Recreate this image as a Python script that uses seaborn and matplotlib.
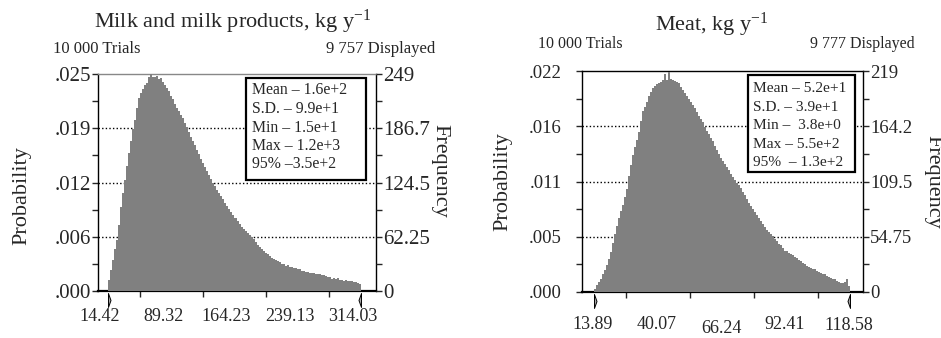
import numpy as np
import pandas as pd
import seaborn as sns
import matplotlib.pyplot as plt
from matplotlib.transforms import ScaledTranslation, blended_transform_factory
from matplotlib.patches import Rectangle

sns.set_style("ticks")
plt.rcParams['font.family'] = ['Liberation Serif', 'DejaVu Serif']
plt.rcParams['mathtext.fontset'] = 'custom'
plt.rcParams['mathtext.rm'] = 'Liberation Serif'
plt.rcParams['mathtext.it'] = 'Liberation Serif'

# ---------------- data ----------------
milk_range = [14.42, 314.03]
milk_xlabels = ["14.42", "89.32", "164.23", "239.13", "314.03"]
milk_freq = [13, 24, 36, 48, 58, 76, 96, 112, 127, 143, 158, 172, 186, 196, 210, 222, 227, 232, 236, 239,
             246, 249, 246, 245, 247, 243, 244, 240, 236, 233, 229, 224, 220, 215, 210, 206, 202, 198, 193, 188,
             183, 177, 172, 167, 162, 157, 151, 147, 142, 138, 133, 128, 124, 120, 116, 112, 109, 105, 101, 98,
             94, 91, 87, 84, 80, 77, 74, 71, 69, 66, 64, 62, 60, 56, 53, 50, 48, 46, 44, 42,
             40, 38, 37, 36, 34, 33, 31, 31, 29, 30, 27, 27, 26, 26, 25, 25, 23, 23, 22, 22,
             21, 21, 21, 20, 19, 19, 18, 18, 17, 16, 16, 14, 15, 14, 15, 13, 13, 12, 13, 12,
             11, 11, 10, 10, 9, 8]
milk_prob_labels = [".000", ".006", ".012", ".019", ".025"]
milk_freq_ticks = [0, 62.25, 124.5, 186.75, 249]
milk_freq_labels = ["0", "62.25", "124.5", "186.7", "249"]
milk_stats = ["Mean \u2013 1.6e+2", "S.D. \u2013 9.9e+1", "Min \u2013 1.5e+1", "Max \u2013 1.2e+3", "95% \u20133.5e+2"]

meat_range = [13.89, 118.58]
meat_xlabels = ["13.89", "40.07", "66.24", "92.41", "118.58"]
meat_freq = [3, 7, 10, 13, 18, 22, 27, 33, 40, 49, 57, 65, 73, 80, 86, 94, 102, 115, 126, 136,
             144, 151, 159, 169, 179, 183, 188, 194, 198, 202, 204, 206, 207, 208, 210, 216, 210, 218, 211, 210,
             209, 208, 207, 203, 200, 197, 194, 191, 188, 185, 182, 178, 174, 171, 168, 164, 160, 157, 153, 150,
             145, 141, 137, 133, 130, 127, 124, 121, 117, 114, 111, 108, 106, 103, 99, 96, 92, 88, 85, 82,
             79, 76, 73, 70, 67, 64, 61, 59, 57, 55, 53, 51, 48, 47, 44, 41, 41, 39, 38, 37,
             35, 34, 32, 31, 29, 28, 26, 25, 24, 23, 23, 21, 20, 19, 18, 18, 16, 15, 14, 13,
             13, 11, 10, 9, 9, 10, 13, 6]
meat_prob_labels = [".000", ".005", ".011", ".016", ".022"]
meat_freq_ticks = [0, 54.75, 109.5, 164.25, 219]
meat_freq_labels = ["0", "54.75", "109.5", "164.2", "219"]
meat_stats = ["Mean \u2013 5.2e+1", "S.D. \u2013 3.9e+1", "Min \u2013  3.8e+0", "Max \u2013 5.5e+2", "95%  \u2013 1.3e+2"]

W, H = 941, 338
fig = plt.figure(figsize=(W / 100, H / 100), dpi=100)


def px_axes(l, t, r, b):
    return fig.add_axes([l / W, 1 - b / H, (r - l) / W, (b - t) / H])


def panel(ax, rng, freq, xlabels, prob_labels, ftick, flabels, stats, xlim,
          box, text_x, line_px, ax_px, stats_fs, xlab_dx, xlab_dy, top_color, ylab_fs, lpad):
    n = len(freq)
    edges = np.linspace(rng[0], rng[1], n + 1)
    centers = (edges[:-1] + edges[1:]) / 2
    df = pd.DataFrame({"x": centers, "w": np.asarray(freq, dtype=float)})
    sns.histplot(data=df, x="x", weights="w", bins=n, binrange=(rng[0], rng[1]),
                 element="step", fill=True, color="#808080", alpha=1, linewidth=0,
                 ax=ax, zorder=3)
    step = (rng[1] - rng[0]) / 8
    ax.set_xlim(xlim[0], xlim[1])
    ymax = ftick[-1]
    ax.set_ylim(0, ymax)
    ax.set_xlabel("")
    ax.set_ylabel("")
    major = [rng[0] + 2 * step * k for k in range(5)]
    minor = [rng[0] + step * k for k in range(1, 8)]
    ax.set_xticks(major)
    ax.set_xticklabels(xlabels)
    ax.set_xticks(minor, minor=True)
    ax.tick_params(axis="x", which="major", direction="out", length=0, labelsize=13, pad=xlab_dy[0])
    ax.tick_params(axis="x", which="minor", direction="out", length=4, width=1)
    ax.set_yticks(ftick)
    ax.set_yticklabels(prob_labels)
    ymid = [(ftick[i] + ftick[i + 1]) / 2 for i in range(4)]
    ax.set_yticks(ymid, minor=True)
    ax.tick_params(axis="y", which="both", direction="out", length=4, width=1, labelsize=ylab_fs, pad=lpad)
    for yv in ftick[1:-1]:
        ax.axhline(yv, color="black", lw=1.0, linestyle=(0, (1, 1.6)), zorder=1)
    for s in ["left", "right"]:
        ax.spines[s].set_color("black")
        ax.spines[s].set_linewidth(1)
    ax.spines["bottom"].set_color("black")
    ax.spines["bottom"].set_linewidth(1.6)
    ax.spines["top"].set_color(top_color)
    ax.spines["top"].set_linewidth(1)
    for i, lab in enumerate(ax.get_xticklabels()):
        dy = xlab_dy[1].get(i, 0)
        lab.set_transform(lab.get_transform() +
                          ScaledTranslation(xlab_dx / 100, -dy / 100, fig.dpi_scale_trans))

    ax2 = ax.twinx()
    ax2.set_ylim(0, ymax)
    ax2.set_yticks(ftick)
    ax2.set_yticklabels(flabels)
    ax2.set_yticks(ymid, minor=True)
    ax2.tick_params(axis="y", which="both", direction="out", length=4, width=1, labelsize=ylab_fs, pad=1)
    for s in ax2.spines.values():
        s.set_visible(False)

    # slider markers at range ends
    trans = blended_transform_factory(ax.transData, ax.transAxes)
    yoff = -9 / (ax_px[3] - ax_px[1])
    ax.plot([rng[0]], [yoff], transform=trans, clip_on=False, linestyle="none",
            marker=[(0, 1), (0.36, 0), (0, -1), (0, 1)], markersize=10,
            markerfacecolor="#a8a8a8", markeredgecolor="black", markeredgewidth=0.7, zorder=6)
    ax.plot([rng[1]], [yoff], transform=trans, clip_on=False, linestyle="none",
            marker=[(0, 1), (-0.36, 0), (0, -1), (0, 1)], markersize=10,
            markerfacecolor="#a8a8a8", markeredgecolor="black", markeredgewidth=0.7, zorder=6)

    # stats box
    aw = ax_px[2] - ax_px[0]
    ah = ax_px[3] - ax_px[1]
    bx0 = (box[0] - ax_px[0]) / aw
    bx1 = (box[2] - ax_px[0]) / aw
    by0 = (ax_px[3] - box[3]) / ah
    by1 = (ax_px[3] - box[1]) / ah
    ax.add_patch(Rectangle((bx0, by0), bx1 - bx0, by1 - by0, transform=ax.transAxes,
                           facecolor="white", edgecolor="black", lw=1.6, zorder=7))
    tx = (text_x - ax_px[0]) / aw
    for s, ly in zip(stats, line_px):
        ax.text(tx, (ax_px[3] - ly) / ah, s, transform=ax.transAxes, ha="left", va="center",
                fontsize=stats_fs, zorder=8)
    return ax2


# ---- milk panel ----
mpx = (98, 74, 376, 291)
ax1 = px_axes(*mpx)
m_scale = (milk_range[1] - milk_range[0]) / (361 - 108)
m_xlim = (milk_range[0] - (108 - 98) * m_scale, milk_range[1] + (376 - 361) * m_scale)
panel(ax1, milk_range, milk_freq, milk_xlabels, milk_prob_labels, milk_freq_ticks, milk_freq_labels,
      milk_stats, m_xlim, (246, 78, 366, 180), 251.5, [90, 109.3, 127.7, 146, 164.3], mpx, 11.3,
      -8, (12, {}), "#888888", 15, 1)

# ---- meat panel ----
tpx = (582, 71, 863, 292)
ax3 = px_axes(*tpx)
t_scale = (meat_range[1] - meat_range[0]) / (850 - 594)
t_xlim = (meat_range[0] - (594 - 582) * t_scale, meat_range[1] + (863 - 850) * t_scale)
panel(ax3, meat_range, meat_freq, meat_xlabels, meat_prob_labels, meat_freq_ticks, meat_freq_labels,
      meat_stats, t_xlim, (748, 75, 855, 172), 753, [88.3, 107.3, 125.7, 144, 162.3], tpx, 11.1,
      -1, (17, {2: 4.5, 4: 1.5}), "black", 13.5, 10.5)

# ---- texts ----
def ftext(x, y, s, **kw):
    fig.text(x / W, 1 - y / H, s, **kw)

ftext(233, 22, "Milk and milk products, kg y$^{\\mathregular{-1}}$", ha="center", va="center", fontsize=16)
ftext(53, 49, "10 000 Trials", ha="left", va="center", fontsize=12)
ftext(435, 49, "9 757 Displayed", ha="right", va="center", fontsize=12)
ftext(22, 196, "Probability", ha="center", va="center", rotation=90, fontsize=16)
ftext(440, 171, "Frequency", ha="center", va="center", rotation=270, fontsize=16)

ftext(712, 25, "Meat, kg y$^{\\mathregular{-1}}$", ha="center", va="center", fontsize=16)
ftext(538, 43.5, "10 000 Trials", ha="left", va="center", fontsize=11.5)
ftext(915, 43.5, "9 777 Displayed", ha="right", va="center", fontsize=11.5)
ftext(503, 182, "Probability", ha="center", va="center", rotation=90, fontsize=16)
ftext(933, 182, "Frequency", ha="center", va="center", rotation=270, fontsize=16)

fig.savefig("out.png", dpi=100)
